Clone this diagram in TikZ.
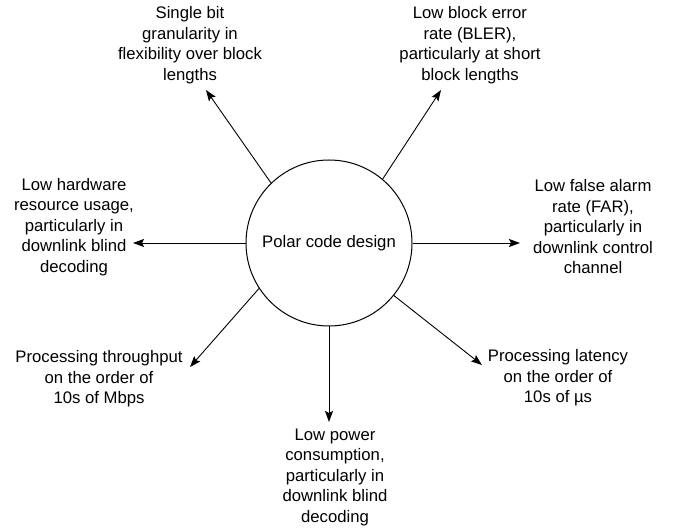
\documentclass[tikz,border=0pt]{standalone}
\usepackage{fontspec}
\setmainfont{Liberation Sans}
\usetikzlibrary{arrows.meta}
\begin{document}
\begin{tikzpicture}[x=1pt,y=1pt,
  label text/.style={align=center, inner sep=0pt, font=\fontsize{16.7}{20.5}\selectfont},
  goal/.style={draw=black, line width=0.9pt, -{Stealth[length=11pt,width=8pt,inset=2pt]}},
  hub/.style={circle, draw=black, line width=1pt, minimum size=166pt, inner sep=0pt, font=\fontsize{16.7}{20.5}\selectfont}]
\useasboundingbox (0,0) rectangle (679,527);

% central design node
\node[hub] (c) at (329,284) {Polar code design};

% arrow tips
\coordinate (tl) at (206,437);
\coordinate (tr) at (441,437);
\coordinate (l)  at (133,284);
\coordinate (r)  at (520,284);
\coordinate (bl) at (190,160);
\coordinate (b)  at (329,105);
\coordinate (br) at (482,162);

% requirement labels
\node[label text] (tlt) at (190,482) {Single bit\\granularity in\\flexibility over block\\lengths};
\node[label text] (trt) at (470,482) {Low block error\\rate (BLER),\\particularly at short\\block lengths};
\node[label text] (lt)  at (74,300)  {Low hardware\\resource usage,\\particularly in\\downlink blind\\decoding};
\node[label text] (rt)  at (593,300) {Low false alarm\\rate (FAR),\\particularly in\\downlink control\\channel};
\node[label text] (blt) at (99,148)  {Processing throughput\\on the order of\\10s of Mbps};
\node[label text] (brt) at (558,149) {Processing latency\\on the order of\\10s of µs};
\node[label text] (bt)  at (335,50)  {Low power\\consumption,\\particularly in\\downlink blind\\decoding};

% connectors
\draw[goal] (c.134.5) -- (tl);
\draw[goal] (c.50.5)  -- (tr);
\draw[goal] (c.180)   -- (l);
\draw[goal] (c.0)     -- (r);
\draw[goal] (c.213.5) -- (bl);
\draw[goal] (c.270)   -- (b);
\draw[goal] (c.321.8) -- (br);
\end{tikzpicture}
\end{document}
